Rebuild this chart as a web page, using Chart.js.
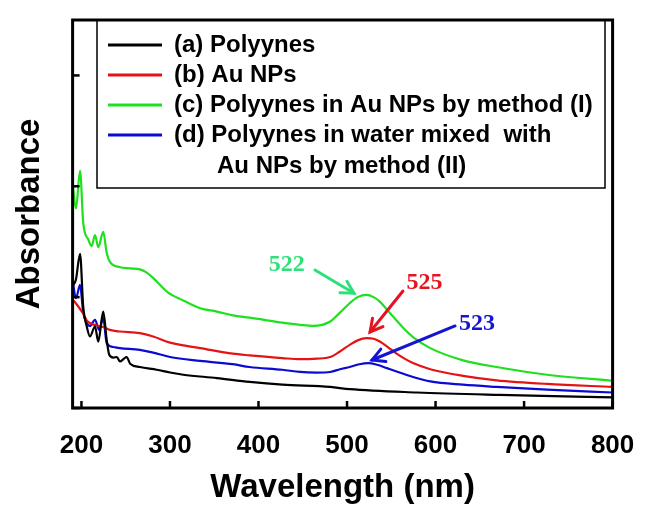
<!DOCTYPE html>
<html><head><meta charset="utf-8">
<script src="https://cdn.jsdelivr.net/npm/chart.js@4.4.0/dist/chart.umd.min.js"></script>
<style>html,body{margin:0;padding:0;background:#fff;}#wrap{width:651px;height:515px;}</style>
</head><body><div id="wrap"><canvas id="c" width="651" height="515"></canvas></div>
<script>
// ---- data (wavelength in nm, absorbance in a.u.) ----
const wlA  = [190,193.8,198.4,202,206,209.6,215.3,219,224.6,228.5,231.4,236,240,243.5,248,251,255,266,285,300,315,353,390,427,481,503,579,672,800];
const absA = [1.10,1.16,1.39,0.915,0.735,0.645,0.735,0.60,0.87,0.615,0.48,0.455,0.46,0.42,0.445,0.46,0.40,0.37,0.345,0.32,0.30,0.27,0.235,0.21,0.19,0.17,0.14,0.118,0.095];

const wlB  = [190,196,202,206,210,224.6,232,243.5,266,281,300,315,334,371,390,427,447,466,481,492,503,512,522,530,537,546,556,565,574.5,594,631,669,726,800];
const absB = [0.98,0.92,0.85,0.79,0.765,0.73,0.705,0.69,0.675,0.645,0.59,0.565,0.54,0.49,0.475,0.45,0.44,0.445,0.46,0.51,0.57,0.61,0.63,0.625,0.60,0.55,0.49,0.445,0.405,0.35,0.29,0.25,0.217,0.19];

const wlC  = [190,193.8,198.4,202,207.7,211.5,215.3,219,224.6,228.5,232,243.5,255,266,272,280,298,315,334,353,371,390,427,447,462,481,492,503,512,522,530,537,546,556,565,574.5,594,631,669,726,800];
const absC = [2.03,1.80,2.14,1.67,1.52,1.46,1.56,1.45,1.59,1.40,1.32,1.27,1.26,1.25,1.23,1.18,1.04,0.97,0.90,0.87,0.835,0.815,0.77,0.75,0.74,0.78,0.86,0.945,1.0,1.02,1.0,0.96,0.88,0.79,0.71,0.64,0.54,0.43,0.37,0.30,0.245];

const wlD  = [190,193.8,198.4,202,206,209.6,215.3,220,224.6,228.5,236,243.5,266,281,300,334,371,390,427,447,466,481,492,503,514,524,534,545,556,574.5,594,631,669,726,800];
const absD = [1.155,0.99,1.11,0.86,0.77,0.74,0.795,0.705,0.81,0.585,0.55,0.54,0.525,0.50,0.46,0.425,0.395,0.37,0.345,0.325,0.32,0.325,0.35,0.37,0.395,0.405,0.39,0.36,0.33,0.28,0.24,0.21,0.19,0.165,0.14];

const xTicks = [200,300,400,500,600,700,800];
const yTicks = [0,1,2,3];
const seriesLabels = ['(a) Polyynes','(b) Au NPs','(c) Polyynes in Au NPs by method (I)','(d) Polyynes in water mixed  with Au NPs by method (II)'];
const legendLines = [['(a) Polyynes'],['(b) Au NPs'],['(c) Polyynes in Au NPs by method (I)'],['(d) Polyynes in water mixed  with','Au NPs by method (II)']];
const peakLabels = ['522','525','523'];
const seriesColors = ['#000000','#e41414','#1ee01e','#0a0ad2'];
const peakColors = ['#2ee07a','#e41420','#1414d2'];
// annotation anchors in data units [nm, absorbance]
const peakTextAt = [[432,1.29],[587.5,1.128],[646.8,0.758]];
const arrowFrom  = [[463.8,1.245],[563.2,1.055],[622,0.74]];
const arrowTo    = [[507.9,1.035],[526,0.686],[528.2,0.433]];

const toXY = (xs, ys) => xs.map((x,i)=>({x:x,y:ys[i]}));
const series = [[wlA,absA],[wlB,absB],[wlC,absC],[wlD,absD]];

const frameTicks = {
  id:'frameTicks',
  afterDatasetsDraw(chart){
    const {ctx, chartArea:a, scales:{x,y}} = chart;
    ctx.save();
    ctx.strokeStyle='#000';
    ctx.lineWidth=2.5;
    xTicks.forEach(v=>{const px=x.getPixelForValue(v);ctx.beginPath();ctx.moveTo(px,a.bottom);ctx.lineTo(px,a.bottom-7);ctx.stroke();});
    yTicks.forEach(v=>{const py=y.getPixelForValue(v);ctx.beginPath();ctx.moveTo(a.left,py);ctx.lineTo(a.left+7,py);ctx.stroke();});
    ctx.lineWidth=3;
    ctx.strokeRect(a.left,a.top,a.right-a.left,a.bottom-a.top);
    ctx.restore();
  }
};

const legendBox = {
  id:'legendBox',
  afterDraw(chart){
    const {ctx} = chart;
    ctx.save();
    ctx.strokeStyle='#000';ctx.lineWidth=1.5;
    ctx.strokeRect(97,20,508,168);
    ctx.font='bold 24px "Liberation Sans", Arial, sans-serif';
    ctx.textBaseline='middle';ctx.textAlign='left';
    legendLines.forEach((lines,i)=>{
      const yy=45+30*i;
      ctx.strokeStyle=chart.data.datasets[i].borderColor;ctx.lineWidth=3;
      ctx.beginPath();ctx.moveTo(108,yy);ctx.lineTo(162,yy);ctx.stroke();
      ctx.fillStyle='#000';
      lines.forEach((t,j)=>ctx.fillText(t, j===0?174:217, yy+31*j));
    });
    ctx.restore();
  }
};

const peakNotes = {
  id:'peakNotes',
  afterDatasetsDraw(chart){
    const {ctx, scales:{x,y}} = chart;
    ctx.save();
    peakLabels.forEach((lab,i)=>{
      ctx.fillStyle=peakColors[i];ctx.strokeStyle=peakColors[i];
      ctx.font='bold 24px "Liberation Serif", "Times New Roman", serif';
      ctx.textAlign='center';ctx.textBaseline='middle';
      ctx.fillText(lab, x.getPixelForValue(peakTextAt[i][0]), y.getPixelForValue(peakTextAt[i][1]));
      const x0=x.getPixelForValue(arrowFrom[i][0]), y0=y.getPixelForValue(arrowFrom[i][1]);
      const x1=x.getPixelForValue(arrowTo[i][0]), y1=y.getPixelForValue(arrowTo[i][1]);
      ctx.lineWidth=3;ctx.lineCap='round';
      ctx.beginPath();ctx.moveTo(x0,y0);ctx.lineTo(x1,y1);ctx.stroke();
      const ang=Math.atan2(y1-y0,x1-x0), h=14;
      ctx.beginPath();
      ctx.moveTo(x1-h*Math.cos(ang-0.5), y1-h*Math.sin(ang-0.5));
      ctx.lineTo(x1,y1);
      ctx.lineTo(x1-h*Math.cos(ang+0.5), y1-h*Math.sin(ang+0.5));
      ctx.stroke();
    });
    ctx.restore();
  }
};

new Chart(document.getElementById('c'), {
  type:'line',
  data:{datasets: series.map((s,i)=>({
    label: seriesLabels[i], data: toXY(s[0],s[1]),
    borderColor: seriesColors[i], borderWidth: 2.2, pointRadius: 0,
    cubicInterpolationMode:'monotone', fill:false
  }))},
  options:{
    responsive:false, animation:false, devicePixelRatio:1,
    layout:{padding:{left:0,right:38.4,top:20,bottom:0}},
    plugins:{legend:{display:false},tooltip:{enabled:false}},
    scales:{
      x:{type:'linear',min:190,max:800,
        afterBuildTicks:s=>{s.ticks=xTicks.map(v=>({value:v}));},
        afterFit:s=>{s.height=107;},
        grid:{display:false},border:{display:false},
        ticks:{color:'#000',padding:14,maxRotation:0,autoSkip:false,
          font:{family:'"Liberation Sans", Arial, sans-serif',weight:'bold',size:26,lineHeight:1.2}},
        title:{display:true,text:'Wavelength (nm)',color:'#000',padding:{top:0,bottom:7},
          font:{family:'"Liberation Sans", Arial, sans-serif',weight:'bold',size:33,lineHeight:1.2}}
      },
      y:{type:'linear',min:0,max:3.5,
        afterBuildTicks:s=>{s.ticks=yTicks.map(v=>({value:v}));},
        afterFit:s=>{s.width=72.6;},
        grid:{display:false},border:{display:false},
        ticks:{display:false},
        title:{display:true,text:'Absorbance',color:'#000',padding:{top:10,bottom:0},
          font:{family:'"Liberation Sans", Arial, sans-serif',weight:'bold',size:33,lineHeight:1.2}}
      }
    }
  },
  plugins:[frameTicks,peakNotes,legendBox]
});
</script></body></html>
